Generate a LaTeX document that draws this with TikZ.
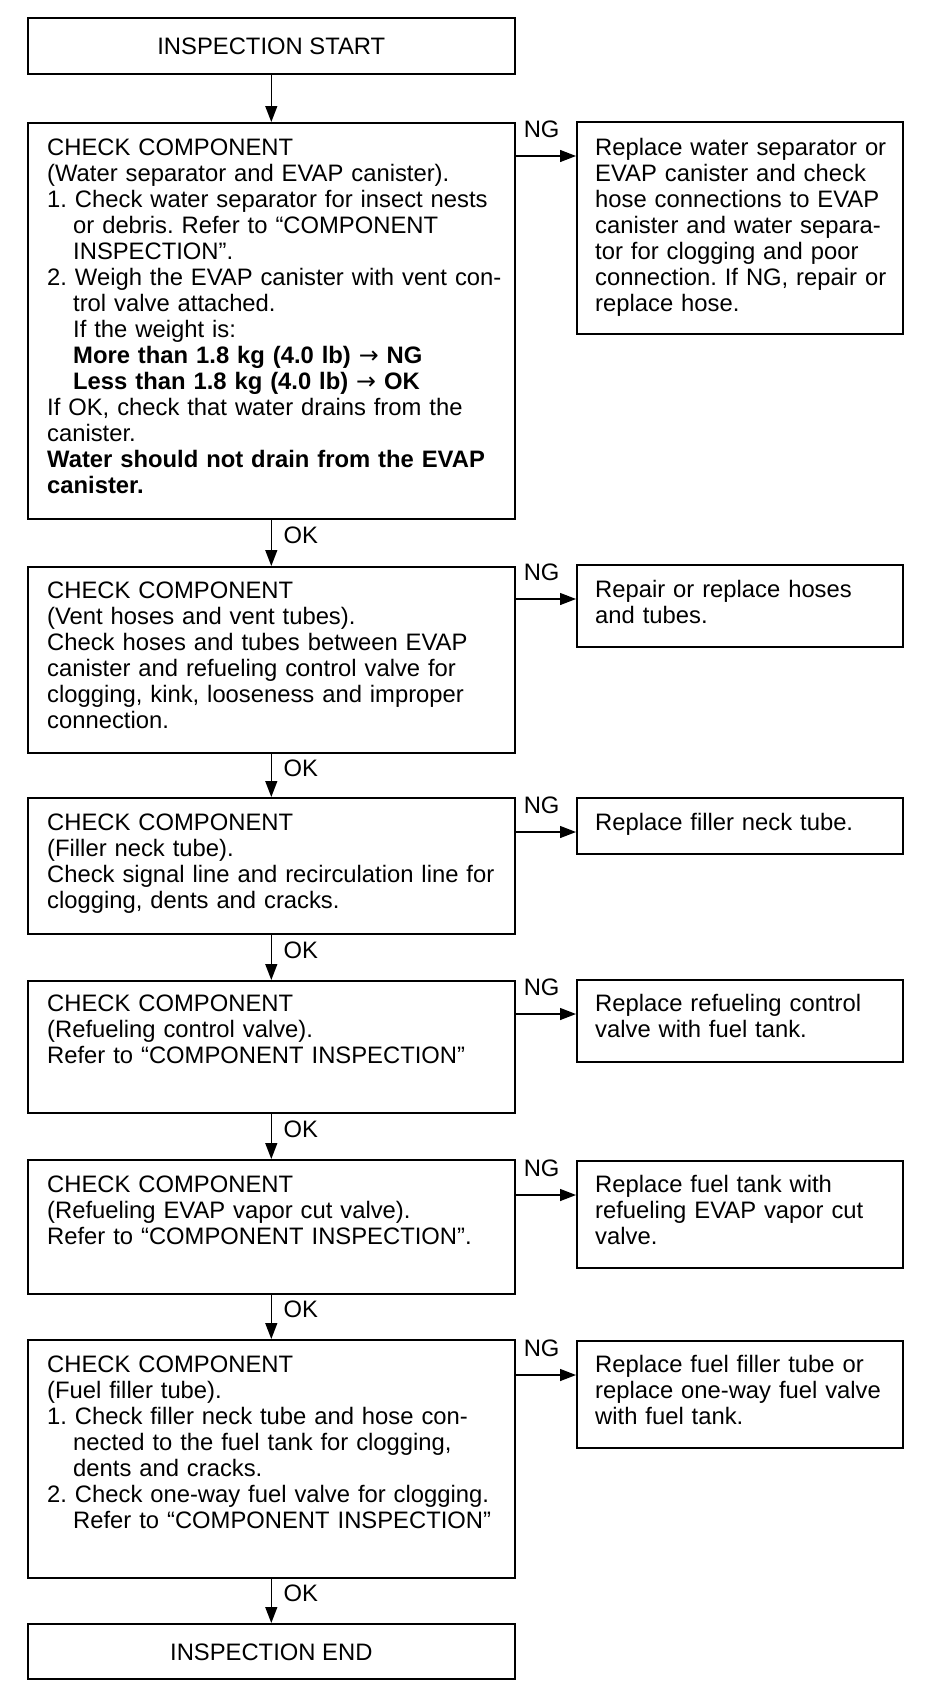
\documentclass[tikz,border=0pt]{standalone}
\usepackage{fontspec}
\setmainfont{Liberation Sans}
\newfontfamily\arrowfont{DejaVu Sans}
\usetikzlibrary{arrows.meta}
\frenchspacing
\newcommand{\ind}{\hspace*{26pt}}
\newcommand{\rarr}{{\arrowfont\mdseries →}}
\begin{document}
\begin{tikzpicture}[x=1pt,y=-1pt,
  box/.style={draw,line width=1.6pt,inner sep=0pt,anchor=north west},
  mainbox/.style={box,minimum width=487pt,minimum height=#1},
  sidebox/.style={box,minimum width=326pt,minimum height=#1},
  txt/.style={anchor=base west,inner sep=0pt,text width=#1,align=left,font=\fontsize{23.8}{26}\selectfont},
  lbl/.style={anchor=base west,inner sep=0pt,font=\fontsize{23.8}{26}\selectfont},
  ctr/.style={inner sep=0pt,font=\fontsize{23.8}{26}\selectfont},
  flow/.style={line width=1.3pt,-{Triangle[width=12pt,length=16pt]}}]
\useasboundingbox (0,0) rectangle (944,1702);

% main boxes
\node[mainbox=56pt]  (start) at (27,17) {};
\node[mainbox=396pt] (b1) at (27,122) {};
\node[mainbox=186pt] (b2) at (27,566) {};
\node[mainbox=136pt] (b3) at (27,797) {};
\node[mainbox=132pt] (b4) at (27,980) {};
\node[mainbox=134pt] (b5) at (27,1159) {};
\node[mainbox=238pt] (b6) at (27,1339) {};
\node[mainbox=55pt]  (end) at (27,1623) {};

% side boxes
\node[sidebox=212pt] (r1) at (576,121) {};
\node[sidebox=82pt]  (r2) at (576,564) {};
\node[sidebox=56pt]  (r3) at (576,797) {};
\node[sidebox=82pt]  (r4) at (576,979) {};
\node[sidebox=107pt] (r5) at (576,1160) {};
\node[sidebox=107pt] (r6) at (576,1340) {};

% texts
\node[ctr] (tstart) at ([yshift=-1pt]start.center) {INSPECTION START};
\node[ctr] (tend) at ([yshift=-1pt]end.center) {INSPECTION END};

\node[txt=480pt] (t1) at ([xshift=20pt,yshift=-33pt]b1.north west) {%
CHECK COMPONENT\\
(Water separator and EVAP canister).\\
1. Check water separator for insect nests\\
\ind or debris. Refer to “COMPONENT\\
\ind INSPECTION”.\\
2. Weigh the EVAP canister with vent con-\\
\ind trol valve attached.\\
\ind If the weight is:\\
\ind\textbf{More than 1.8 kg (4.0 lb) \rarr{} NG}\\
\ind\textbf{Less than 1.8 kg (4.0 lb) \rarr{} OK}\\
If OK, check that water drains from the\\
canister.\\
\textbf{Water should not drain from the EVAP}\\
\textbf{canister.}};

\node[txt=480pt] (t2) at ([xshift=20pt,yshift=-32pt]b2.north west) {%
CHECK COMPONENT\\
(Vent hoses and vent tubes).\\
Check hoses and tubes between EVAP\\
canister and refueling control valve for\\
clogging, kink, looseness and improper\\
connection.};

\node[txt=480pt] (t3) at ([xshift=20pt,yshift=-33pt]b3.north west) {%
CHECK COMPONENT\\
(Filler neck tube).\\
Check signal line and recirculation line for\\
clogging, dents and cracks.};

\node[txt=480pt] (t4) at ([xshift=20pt,yshift=-31pt]b4.north west) {%
CHECK COMPONENT\\
(Refueling control valve).\\
Refer to “COMPONENT INSPECTION”};

\node[txt=480pt] (t5) at ([xshift=20pt,yshift=-33pt]b5.north west) {%
CHECK COMPONENT\\
(Refueling EVAP vapor cut valve).\\
Refer to “COMPONENT INSPECTION”.};

\node[txt=480pt] (t6) at ([xshift=20pt,yshift=-33pt]b6.north west) {%
CHECK COMPONENT\\
(Fuel filler tube).\\
1. Check filler neck tube and hose con-\\
\ind nected to the fuel tank for clogging,\\
\ind dents and cracks.\\
2. Check one-way fuel valve for clogging.\\
\ind Refer to “COMPONENT INSPECTION”};

\node[txt=330pt] (s1) at ([xshift=19pt,yshift=-34pt]r1.north west) {%
Replace water separator or\\
EVAP canister and check\\
hose connections to EVAP\\
canister and water separa-\\
tor for clogging and poor\\
connection. If NG, repair or\\
replace hose.};

\node[txt=330pt] (s2) at ([xshift=19pt,yshift=-33pt]r2.north west) {%
Repair or replace hoses\\
and tubes.};

\node[txt=330pt] (s3) at ([xshift=19pt,yshift=-33pt]r3.north west) {%
Replace filler neck tube.};

\node[txt=330pt] (s4) at ([xshift=19pt,yshift=-32pt]r4.north west) {%
Replace refueling control\\
valve with fuel tank.};

\node[txt=330pt] (s5) at ([xshift=19pt,yshift=-32pt]r5.north west) {%
Replace fuel tank with\\
refueling EVAP vapor cut\\
valve.};

\node[txt=330pt] (s6) at ([xshift=19pt,yshift=-32pt]r6.north west) {%
Replace fuel filler tube or\\
replace one-way fuel valve\\
with fuel tank.};

% vertical OK connectors
\draw[flow] (start.south) -- (b1.north);
\foreach \a/\b in {b1/b2,b2/b3,b3/b4,b4/b5,b5/b6,b6/end}{
  \draw[flow] (\a.south) -- coordinate (m\a) (\b.north);
  \node[lbl] at ([xshift=12pt,yshift=-1pt]m\a) {OK};
}

% NG connectors
\foreach \a/\r in {b1/r1,b2/r2,b3/r3,b4/r4,b5/r5,b6/r6}{
  \coordinate (n\r) at ([yshift=-35pt]\r.north west);
  \draw[flow] (\a.east |- n\r) -- (n\r);
  \path (\a.east |- n\r) ++(8,-19) node[lbl] {NG};
}
\end{tikzpicture}
\end{document}
